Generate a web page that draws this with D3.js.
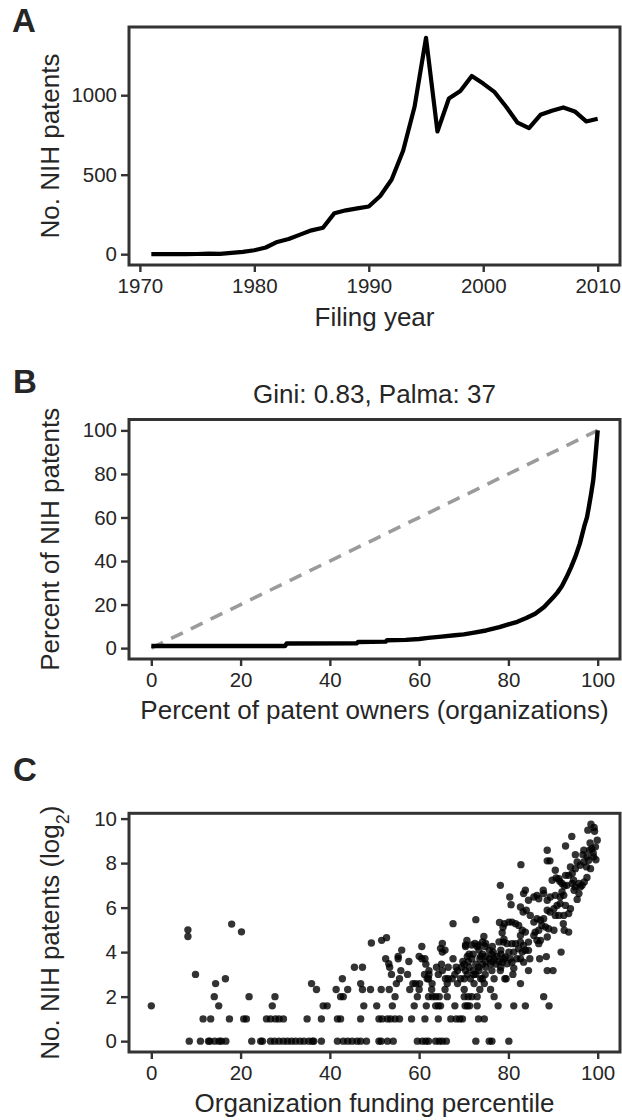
<!DOCTYPE html>
<html><head><meta charset="utf-8">
<script src="https://cdn.jsdelivr.net/npm/d3@7"></script>
<style>
body{margin:0;background:#fff}
svg{display:block}
text{font-family:"Liberation Sans",Arial,Helvetica,sans-serif;fill:#262626}
</style>
</head><body>
<svg id="chart" width="622" height="1120"></svg>
<script>
// ---------- Panel A data ----------
const filingYears = [1971,1972,1973,1974,1975,1976,1977,1978,1979,1980,1981,1982,1983,1984,1985,1986,1987,1988,1989,1990,1991,1992,1993,1994,1995,1996,1997,1998,1999,2000,2001,2002,2003,2004,2005,2006,2007,2008,2009,2010];
const nihPatents = [0,0,0,0,1,3,2,8,15,25,42,77,96,123,150,166,258,276,288,300,366,470,651,927,1361,772,979,1027,1121,1073,1019,927,827,793,877,902,923,898,835,852];
const yearTicks = [1970,1980,1990,2000,2010];
const patentTicks = [0,500,1000];

// ---------- Panel B data ----------
const ownersPct = [0,30,30.3,46,46.3,52.5,52.8,57,60,62,65,68,70,72,75,78,80,82,84,86,88,90,91,92,93,94,95,96,97,97.6,98,98.5,99,99.5,100];
const patentsPct = [1,1,2.1,2.2,2.8,3,3.6,3.8,4.2,4.7,5.3,5.9,6.3,7.0,8.1,9.6,10.9,12.1,13.8,15.8,18.9,23.2,25.6,28.5,32.5,37,42,48,56,60,64.5,70.5,77,88,100];
const equalityX = [0,100];
const equalityY = [0,100];
const pctTicks = [0,20,40,60,80,100];
const lorenzTitle = "Gini: 0.83, Palma: 37";

// ---------- Panel C data: [funding percentile, log2(no. patents)] ----------
const scatterPoints = [
[0,1.585],[8.2,5.0],[8.2,4.7],[8.5,0],[9.9,3.0],[11.6,1],[13.3,1],[11.0,0],[12.8,0],[13.1,0],[14.2,0],[15.2,0],[15.7,0],[16.7,0],
[14.1,2],[14.4,2.585],[15.1,1.585],[16.6,2.807],[17.5,1],[18.0,5.26],[20.2,4.91],[20.7,1],[21.3,1],[21.9,2],[22.5,0],[24.5,0],
// y = 0 row
[24.9,0],[26.7,0],[27.6,0],[28.6,0],[29.6,0],[30.5,0],[31.4,0],[32.3,0],[33.3,0],[34.2,0],[35.3,0],[36.1,0],[36.4,0],[38.1,0],
[41.7,0],[43.0,0],[44.0,0],[45.0,0],[46.1,0],[46.9,0],[48.2,0],[51.0,0],[51.5,0],[52.9,0],[54.2,0],[59.6,0],[60.7,0],[61.5,0],
[62.1,0],[63.7,0],[64.5,0],[65.2,0],[66.1,0],[72.7,0],[75.7,0],[76.3,0],[80.1,0],
// y = 1 row
[25.8,1],[26.7,1],[27.8,1],[28.6,1],[29.6,1],[34.9,1],[38.1,1],[41.7,1],[42.4,1],[46.9,1],[51.0,1],[51.7,1],[52.9,1],[53.6,1],
[54.6,1],[55.6,1],[58.3,1],[61.3,1],[64.3,1],[67.1,1],[68.3,1],[69.1,1],[69.7,1],[73.3,1],[74.6,1],
// y = log2(3)
[27.1,1.585],[38.5,1.585],[39.4,1.585],[47.6,1.585],[50.5,1.585],[54.0,1.585],[58.9,1.585],[61.6,1.585],[63.7,1.585],[64.3,1.585],
[64.8,1.585],[68.0,1.585],[70.3,1.585],[70.8,1.585],[71.3,1.585],[73.0,1.585],[77.7,1.585],[81.2,1.585],[83.8,1.585],[89.1,1.585],
// y = 2
[27.7,2],[42.4,2],[43.0,2],[54.6,2],[59.6,2],[62.1,2],[63.0,2],[63.7,2],[64.5,2],[66.3,2],[70.1,2],[71.0,2],[71.8,2],[73.0,2],[76.8,2],[87.9,2],
// y = log2(5)
[37.0,2.32],[41.4,2.32],[44.0,2.32],[47.3,2.32],[49.1,2.32],[51.5,2.32],[53.3,2.32],[57.9,2.32],[60.0,2.32],[62.8,2.32],[65.8,2.32],[70.1,2.32],[73.6,2.32],[76.0,2.32],
// y = log2(6)
[35.9,2.585],[46.9,2.585],[54.9,2.585],[58.6,2.585],[59.2,2.585],[60.1,2.585],[62.9,2.585],[66.3,2.585],[68.6,2.585],[72.3,2.585],[74.6,2.585],[82.7,2.585],
// y = log2(7)
[42.8,2.807],[55.6,2.807],[61.8,2.807],[62.1,2.807],[65.9,2.807],[66.5,2.807],[67.4,2.807],[69.3,2.807],[70.1,2.807],[71.5,2.807],[73.8,2.807],[74.2,2.807],[76.8,2.807],[79.2,2.807],[79.5,2.807],
// y = 3
[53.8,3],[57.4,3],[61.2,3],[62.2,3],[64.3,3],[68.0,3],[70.8,3],[72.3,3],[72.7,3],[74.8,3],[81.0,3],
// y = log2(9)
[55.9,3.17],[62.2,3.17],[65.2,3.17],[68.6,3.17],[70.4,3.17],[72.1,3.17],[73.4,3.17],[76.3,3.17],[78.2,3.17],[84.5,3.17],[88.7,3.17],[90.0,3.17],
// y = log2(10) and above
[45.5,3.32],[47.3,3.32],[53.4,3.32],[63.9,3.32],[66.5,3.32],[68.3,3.32],[69.5,3.32],[71.2,3.32],[73.3,3.32],[74.9,3.32],[78.3,3.32],[81.2,3.28],
[53.2,3.48],[61.5,3.46],[65.0,3.46],[70.1,3.46],[72.7,3.46],[74.2,3.46],[76.0,3.46],[77.2,3.46],[79.7,3.48],
[57.7,3.58],[69.8,3.58],[71.0,3.58],[74.9,3.58],[76.4,3.58],[77.9,3.58],[78.6,3.55],[80.8,3.55],[83.4,3.55],
[52.5,3.7],[55.3,3.7],[60.6,3.7],[61.3,3.7],[67.6,3.7],[71.8,3.7],[73.6,3.7],[75.7,3.7],[76.8,3.7],[79.0,3.7],[80.4,3.7],[81.9,3.7],[82.7,3.7],[84.8,3.7],[87.0,3.7],
[55.3,3.81],[60.0,3.81],[70.8,3.81],[73.8,3.81],[74.9,3.81],[77.5,3.81],[79.3,3.78],[88.5,3.8],
[71.2,3.91],[72.1,3.91],[74.2,3.91],[76.3,3.91],[78.3,3.91],
[65.2,4],[76.6,4],[80.1,4],[81.2,4],[83.1,4],[91.8,4],
[56.1,4.09],[65.8,4.09],[73.4,4.09],[75.7,4.09],[78.3,4.09],[83.8,4.08],[84.5,4.08],
[64.8,4.17],[82.3,4.15],
[60.6,4.25],[70.4,4.25],[73.0,4.25],[74.8,4.25],[76.4,4.25],[83.4,4.3],
[70.4,4.32],[71.8,4.32],[73.3,4.32],
[49.3,4.41],[65.2,4.39],[72.5,4.39],[74.9,4.39],[79.7,4.38],[80.8,4.38],[81.6,4.38],[86.8,4.38],
[74.2,4.46],[77.9,4.46],[78.9,4.45],[82.7,4.45],[84.5,4.45],
[70.7,4.52],[51.6,4.53],[86.4,4.53],[87.2,4.53],[79.0,4.58],
[52.7,4.65],[88.7,4.68],[74.5,4.7],[85.7,4.75],[82.7,4.75],
[78.6,4.87],[86.0,4.9],[83.8,4.9],[93.5,4.9],
[86.8,4.98],[83.1,4.98],[90.2,4.98],[92.5,4.98],[89.0,5.05],[88.3,5.13],[78.8,5.12],
[87.5,5.2],[82.3,5.2],[81.6,5.28],[79.1,5.28],[67.6,5.28],[92.3,5.28],[78.0,5.33],[80.8,5.35],[80.1,5.35],[85.7,5.35],
[87.2,5.43],[72.7,5.46],[86.4,5.5],[87.9,5.5],
[84.9,5.65],[92.4,5.65],[91.3,5.65],[90.5,5.65],[93.5,5.73],[83.3,5.8],[89.3,5.8],[84.0,5.88],[88.7,5.88],[90.2,5.95],[93.9,5.95],
[82.7,6.03],[90.9,6.1],[92.8,6.1],[80.6,6.13],[91.6,6.18],
[88.7,6.33],[84.5,6.33],[95.4,6.37],[86.8,6.4],[91.6,6.48],[89.4,6.48],[85.7,6.48],[80.3,6.48],
[92.4,6.55],[90.5,6.55],[86.4,6.55],[87.9,6.63],[83.4,6.63],[95.8,6.63],[92.0,6.7],[87.8,6.78],[83.8,6.78],[94.7,6.78],
[96.1,6.93],[95.0,6.93],[92.5,6.97],[96.5,7.0],[93.1,7.0],[78.2,7.0],
[95.8,7.08],[94.3,7.08],[92.0,7.08],[91.5,7.18],[94.6,7.23],[89.8,7.23],[91.3,7.3],[90.7,7.33],[97.0,7.15],[97.6,7.35],
[93.5,7.45],[92.8,7.45],[94.3,7.53],[90.5,7.68],[98.4,7.75],[95.0,7.75],[97.5,7.83],[93.9,7.83],[96.1,7.9],[82.8,7.93],
[96.9,8.05],[95.4,8.05],[88.7,8.1],[89.3,8.1],[98.0,8.13],[99.6,8.15],[97.6,8.28],[99.1,8.28],[95.0,8.38],[96.7,8.38],[99.0,8.45],
[96.9,8.58],[98.2,8.58],[88.7,8.58],[98.7,8.65],[99.5,8.73],[92.8,8.77],[98.3,8.9],
[99.9,9.03],[94.2,9.2],[99.3,9.43],[97.8,9.48],[99.2,9.6],[98.5,9.75]
];
const scatterTicksX = [0,20,40,60,80,100];
const scatterTicksY = [0,2,4,6,8,10];

// ---------- drawing ----------
const svg = d3.select("#chart");
const L = 129, R = 620;
const INK = "#333333";

function expand(ext){ const p=(ext[1]-ext[0])*0.05; return [ext[0]-p, ext[1]+p]; }

function drawAxes(g, x, y, top, bottom, xt, yt, xfmt){
  const ax = g.append("g").attr("transform",`translate(0,${bottom})`)
    .call(d3.axisBottom(x).tickValues(xt).tickSize(7).tickPadding(6.5).tickFormat(xfmt||d3.format("d")));
  const ay = g.append("g").attr("transform",`translate(${L},0)`)
    .call(d3.axisLeft(y).tickValues(yt).tickSize(8).tickPadding(4).tickFormat(d3.format("d")));
  [ax,ay].forEach(a=>{
    a.attr("font-family",null).attr("font-size",null);
    a.select(".domain").remove();
    a.selectAll(".tick line").attr("stroke",INK).attr("stroke-width",2.4);
    a.selectAll(".tick text").attr("fill","#262626").style("font-size","20.5px");
  });
}
function drawBox(g, top, bottom){
  g.append("rect").attr("x",L).attr("y",top).attr("width",R-L).attr("height",bottom-top)
    .attr("fill","none").attr("stroke",INK).attr("stroke-width",3);
}
function label(txt, x, y){
  svg.append("text").attr("x",x).attr("y",y).text(txt)
    .style("font-size","33px").style("font-weight","bold");
}
function xTitle(txt, y){
  svg.append("text").attr("x",(L+R)/2).attr("y",y).attr("text-anchor","middle")
    .style("font-size","26px").text(txt);
}
function yTitle(top, bottom){
  return svg.append("text").attr("text-anchor","middle")
    .attr("transform",`translate(59,${(top+bottom)/2}) rotate(-90)`)
    .style("font-size","26px");
}

// Panel A
{
  const top=27, bottom=265;
  const g = svg.append("g");
  const x = d3.scaleLinear().domain(expand(d3.extent(filingYears))).range([L,R]);
  const y = d3.scaleLinear().domain(expand([0,d3.max(nihPatents)])).range([bottom,top]);
  const data = filingYears.map((d,i)=>[d,nihPatents[i]]);
  g.append("path").datum(data)
    .attr("d", d3.line().x(d=>x(d[0])).y(d=>y(d[1])))
    .attr("fill","none").attr("stroke","#000").attr("stroke-width",4.2).attr("stroke-linejoin","round");
  drawBox(g, top, bottom);
  drawAxes(g, x, y, top, bottom, yearTicks, patentTicks);
  label("A", 12, 32);
  xTitle("Filing year", 326);
  yTitle(top,bottom).text("No. NIH patents");
}

// Panel B
{
  const top=419.5, bottom=659;
  const g = svg.append("g");
  const x = d3.scaleLinear().domain(expand([0,100])).range([L,R]);
  const y = d3.scaleLinear().domain(expand([0,100])).range([bottom,top]);
  const line = d3.line().x(d=>x(d[0])).y(d=>y(d[1]));
  g.append("path").datum(equalityX.map((d,i)=>[d,equalityY[i]]))
    .attr("d", line).attr("fill","none").attr("stroke","#9b9b9b")
    .attr("stroke-width",3.6).attr("stroke-dasharray","13,9");
  g.append("path").datum(ownersPct.map((d,i)=>[d,patentsPct[i]]))
    .attr("d", line).attr("fill","none").attr("stroke","#000")
    .attr("stroke-width",4.4).attr("stroke-linejoin","round");
  drawBox(g, top, bottom);
  drawAxes(g, x, y, top, bottom, pctTicks, pctTicks);
  svg.append("text").attr("x",(L+R)/2).attr("y",402.5).attr("text-anchor","middle")
    .style("font-size","26px").text(lorenzTitle);
  label("B", 13, 393);
  xTitle("Percent of patent owners (organizations)", 719);
  yTitle(top,bottom).text("Percent of NIH patents");
}

// Panel C
{
  const top=813.3, bottom=1052;
  const g = svg.append("g");
  const x = d3.scaleLinear().domain(expand([0,100])).range([L,R]);
  const y = d3.scaleLinear().domain(expand([0,d3.max(scatterPoints,d=>d[1])])).range([bottom,top]);
  g.selectAll("circle").data(scatterPoints).enter().append("circle")
    .attr("cx",d=>x(d[0])).attr("cy",d=>y(d[1])).attr("r",3.7)
    .attr("fill","#000").attr("fill-opacity",0.8);
  drawBox(g, top, bottom);
  drawAxes(g, x, y, top, bottom, scatterTicksX, scatterTicksY);
  label("C", 13, 781);
  xTitle("Organization funding percentile", 1112);
  const t = yTitle(top,bottom);
  t.append("tspan").text("No. NIH patents (log");
  t.append("tspan").attr("baseline-shift","sub").style("font-size","18px").text("2");
  t.append("tspan").text(")");
}
</script>
</body></html>
